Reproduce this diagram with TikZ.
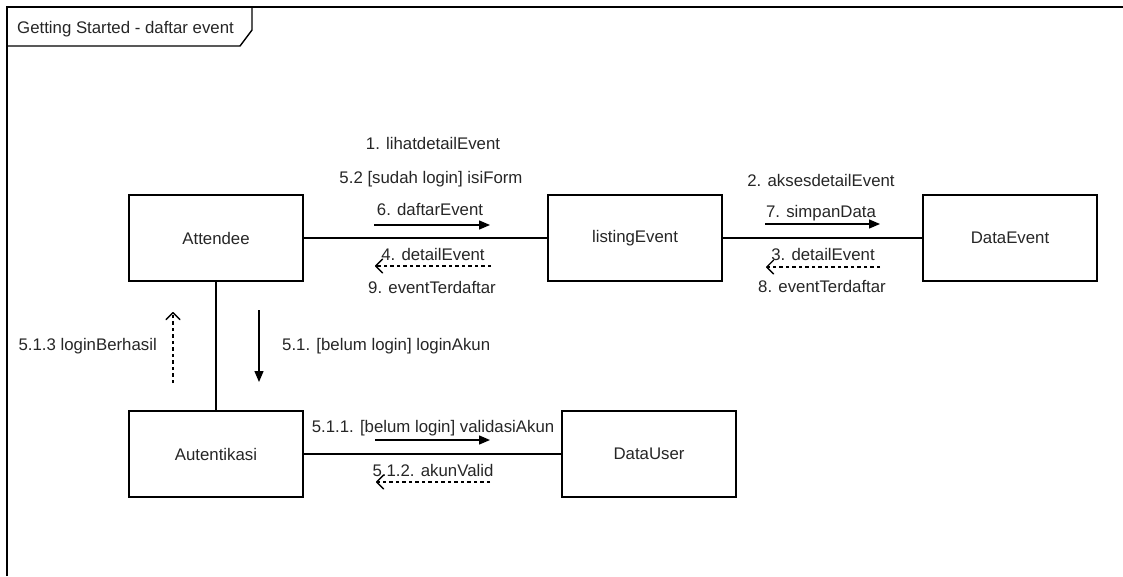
\documentclass[tikz,border=0pt]{standalone}
\usepackage{fontspec}
\setmainfont{Liberation Sans}
\usetikzlibrary{arrows.meta}
\begin{document}
\begin{tikzpicture}[x=1pt,y=-1pt,
  txt/.style={font=\fontsize{16.8}{20}\selectfont, text=black!85},
  obj/.style={txt, draw, line width=1.4pt, minimum width=174pt, minimum height=86pt, inner sep=0pt},
  lbl/.style={txt, inner sep=0pt, text height=12pt, text depth=0pt},
  link/.style={line width=1.4pt},
  call/.style={line width=1.4pt, -{Triangle[length=11pt,width=9pt]}},
  reply/.style={line width=1.2pt, dash pattern=on 3.5pt off 3pt,
    -{Straight Barb[length=7pt,width=14pt,line width=1.3pt,round]}},
]
\useasboundingbox (0,0) rectangle (1123,576);

% diagram frame with its name tab
\draw[link] (7,576) -- (7,7) -- (1123,7);
\draw[link] (7,46) -- (240,46) -- (252,30) -- (252,7);
\node[lbl, anchor=west] (title) at (17,27) {Getting Started - daftar event};

% objects
\node[obj] (att)  at (216,238)  {Attendee};
\node[obj] (list) at (635,238)  {listingEvent};
\node[obj] (dev)  at (1010,238) {DataEvent};
\node[obj] (auth) at (216,454)  {Autentikasi};
\node[obj] (dusr) at (649,454)  {DataUser};

% links
\draw[link] (att) -- (list);
\draw[link] (list) -- (dev);
\draw[link] (att) -- (auth);
\draw[link] (auth) -- (dusr);

% messages Attendee <-> listingEvent
\node[lbl] (m1)  at (433,143) {1. lihatdetailEvent};
\node[lbl] (m52) at (431,177) {5.2 [sudah login] isiForm};
\node[lbl] (m6)  at (430,209) {6. daftarEvent};
\coordinate (a1s) at (374,225); \coordinate (a1e) at (490,225);
\draw[call] (a1s) -- (a1e);
\node[lbl] (m4)  at (433,254) {4. detailEvent};
\coordinate (r1s) at (491,266); \coordinate (r1e) at (375,266);
\draw[reply] (r1s) -- (r1e);
\node[lbl] (m9)  at (432,287) {9. eventTerdaftar};

% messages listingEvent <-> DataEvent
\node[lbl] (m2)  at (821,180) {2. aksesdetailEvent};
\node[lbl] (m7)  at (821,211) {7. simpanData};
\coordinate (a2s) at (765,224); \coordinate (a2e) at (880,224);
\draw[call] (a2s) -- (a2e);
\node[lbl] (m3)  at (823,254) {3. detailEvent};
\coordinate (r2s) at (880,267); \coordinate (r2e) at (766,267);
\draw[reply] (r2s) -- (r2e);
\node[lbl] (m8)  at (822,286) {8. eventTerdaftar};

% messages Attendee <-> Autentikasi
\node[lbl, anchor=east] (m513) at (157,344) {5.1.3 loginBerhasil};
\coordinate (r3s) at (173,383); \coordinate (r3e) at (173,312);
\draw[reply] (r3s) -- (r3e);
\coordinate (a3s) at (259,310); \coordinate (a3e) at (259,382);
\draw[call] (a3s) -- (a3e);
\node[lbl, anchor=west] (m51) at (282,344) {5.1. [belum login] loginAkun};

% messages Autentikasi <-> DataUser
\node[lbl] (m511) at (433,426) {5.1.1. [belum login] validasiAkun};
\coordinate (a4s) at (375,440); \coordinate (a4e) at (490,440);
\draw[call] (a4s) -- (a4e);
\node[lbl] (m512) at (433,470) {5.1.2. akunValid};
\coordinate (r4s) at (490,482); \coordinate (r4e) at (376,482);
\draw[reply] (r4s) -- (r4e);
\end{tikzpicture}
\end{document}
